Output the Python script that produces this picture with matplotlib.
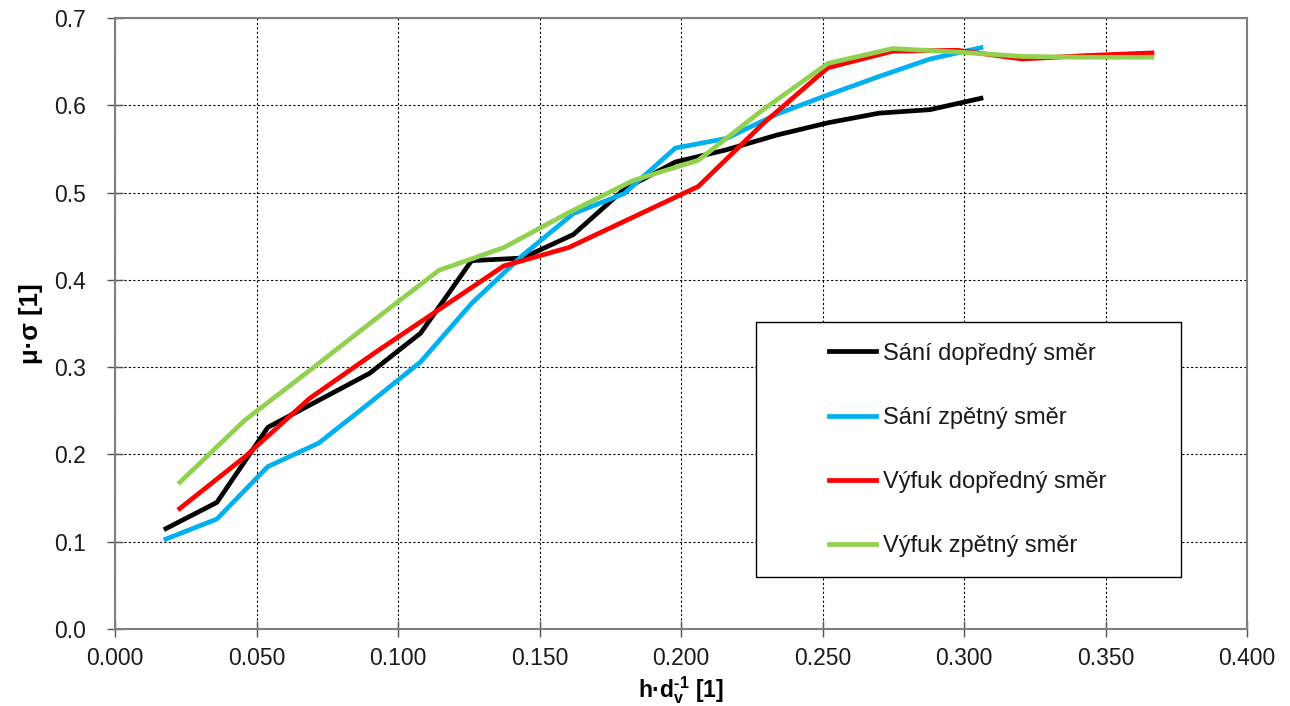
import matplotlib.pyplot as plt
from matplotlib.patches import Rectangle
import numpy as np

# ---- data ----
x_sani = [0.018, 0.036, 0.054, 0.072, 0.090, 0.108, 0.126, 0.144, 0.162,
          0.180, 0.198, 0.216, 0.234, 0.252, 0.270, 0.288, 0.306]
sani_dopredny = [0.115, 0.145, 0.231, 0.262, 0.293, 0.339, 0.422, 0.425, 0.452,
                 0.504, 0.535, 0.549, 0.566, 0.580, 0.591, 0.595, 0.608]
sani_zpetny = [0.103, 0.126, 0.186, 0.213, 0.259, 0.306, 0.373, 0.428, 0.476,
               0.499, 0.551, 0.562, 0.590, 0.612, 0.633, 0.653, 0.666]

x_vyfuk = [0.0229, 0.0458, 0.0687, 0.0916, 0.1145, 0.1374, 0.1603, 0.1832,
           0.2061, 0.2290, 0.2519, 0.2748, 0.2977, 0.3206, 0.3435, 0.3664]
vyfuk_dopredny = [0.138, 0.197, 0.264, 0.316, 0.366, 0.416, 0.437, 0.472,
                  0.507, 0.579, 0.643, 0.662, 0.663, 0.653, 0.657, 0.660]
vyfuk_zpetny = [0.168, 0.239, 0.296, 0.354, 0.411, 0.437, 0.477, 0.514,
                0.537, 0.595, 0.648, 0.665, 0.661, 0.656, 0.655, 0.655]

labels = ['Sání dopředný směr', 'Sání zpětný směr',
          'Výfuk dopředný směr', 'Výfuk zpětný směr']
colors = ['#000000', '#00B0F0', '#FF0000', '#92D050']

x_ticks = np.arange(0, 0.401, 0.05)
y_ticks = np.arange(0, 0.701, 0.1)

plt.rcParams['font.family'] = ['Liberation Sans', 'DejaVu Sans']
plt.rcParams['mathtext.fontset'] = 'custom'
plt.rcParams['mathtext.bf'] = 'Liberation Sans:bold'
plt.rcParams['mathtext.rm'] = 'Liberation Sans:bold'

fig = plt.figure(figsize=(12.9, 7.06), dpi=100)
ax = fig.add_axes([115 / 1290, 77 / 706, 1132 / 1290, 611 / 706])

series = [(x_sani, sani_dopredny), (x_sani, sani_zpetny),
          (x_vyfuk, vyfuk_dopredny), (x_vyfuk, vyfuk_zpetny)]
for (xs, ys), lab, col in zip(series, labels, colors):
    ax.plot(xs, ys, color=col, lw=3.4, label=lab)

ax.set_xlim(0, 0.4)
ax.set_ylim(0, 0.7)
ax.set_xticks(x_ticks)
ax.set_xticklabels(['%.3f' % t for t in x_ticks])
ax.set_yticks(y_ticks)
ax.set_yticklabels(['%.1f' % t for t in y_ticks])
ax.tick_params(axis='both', labelsize=16.5, direction='inout', length=12,
               color='#555555', width=1, labelcolor='#1a1a1a')
ax.tick_params(axis='x', pad=7)
ax.tick_params(axis='y', pad=15)

ax.grid(True, color='black', linestyle=(0, (2, 2)), linewidth=0.8)
ax.set_axisbelow(True)
for s in ax.spines.values():
    s.set_color('#7f7f7f')
    s.set_linewidth(1.5)

ax.set_xlabel(r'h·d$_{\mathbf{v}}^{\text{-}\mathbf{1}}$ [1]', fontsize=16.5,
              fontweight='bold', labelpad=3)
ax.set_ylabel('μ·σ [1]', fontsize=18.5, fontweight='bold', labelpad=8)

# legend frame drawn separately so it can be larger than its content
ax.add_patch(Rectangle((0.566, 0.085), 0.376, 0.417, transform=ax.transAxes,
                       facecolor='white', edgecolor='black', lw=1.0, zorder=4))
leg = ax.legend(loc='center', bbox_to_anchor=(0.7535, 0.2933),
                fontsize=17, handlelength=2.0, handletextpad=0.3,
                labelspacing=1.78, frameon=False)
leg.set_zorder(5)
for t in leg.get_texts():
    t.set_color('#1a1a1a')

fig.savefig('out.png', dpi=100)
